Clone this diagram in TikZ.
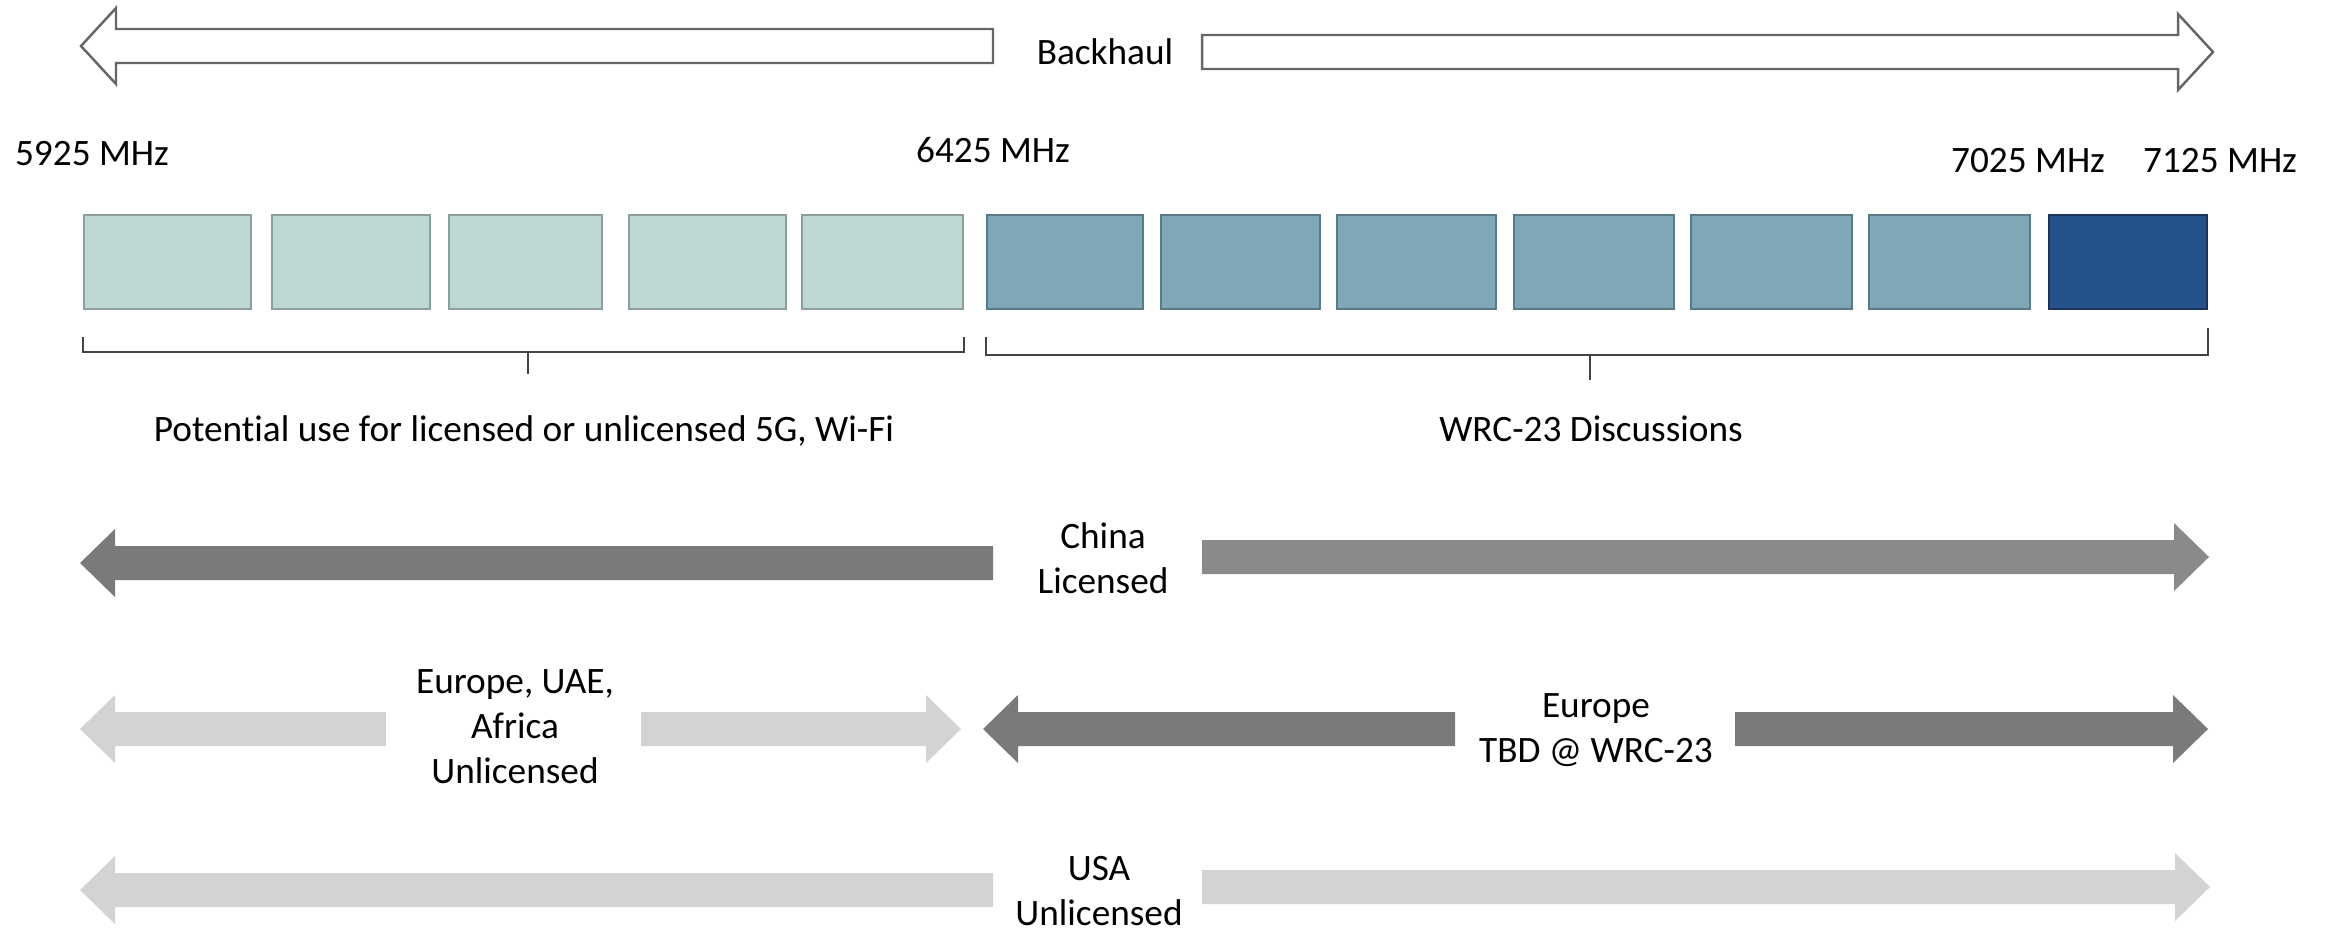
\documentclass[tikz,border=0pt]{standalone}
\usepackage{fontspec}
\setmainfont{Carlito}[Ligatures=NoCommon]
\usetikzlibrary{calc}

\definecolor{palefill}{HTML}{BDD7D5}
\definecolor{paleedge}{HTML}{8E9E9E}
\definecolor{tealfill}{HTML}{7FA8B6}
\definecolor{tealedge}{HTML}{5A7A88}
\definecolor{navyfill}{HTML}{24528A}
\definecolor{navyedge}{HTML}{1B3357}
\definecolor{darkband}{HTML}{7A7A7A}
\definecolor{midband}{HTML}{8A8A8A}
\definecolor{lightband}{HTML}{D3D3D3}
\definecolor{hollowedge}{HTML}{666666}
\definecolor{braceline}{HTML}{444444}

\tikzset{%
  chan/.style={rectangle,inner sep=0pt,line width=0.6pt,minimum height=0.94cm},
  chpale/.style={chan,fill=palefill,draw=paleedge},
  chteal/.style={chan,fill=tealfill,draw=tealedge},
  chnavy/.style={chan,fill=navyfill,draw=navyedge},
  lbl/.style={font=\fontsize{10.6}{12.7}\selectfont,inner sep=0pt,align=center,anchor=base},
  brace/.style={draw=braceline,line width=0.6pt},
  hollow/.style={draw=hollowedge,fill=white,line width=0.7pt,line join=miter}
}

% fat arrow: [head half width]{style}{tail x}{tip x}{y}
\newcommand{\band}[5][34]{%
  \pgfmathsetmacro{\bandbase}{#4-35*sign(#4-#3)}
  \path[#2] (#3,#5-17) -- (\bandbase,#5-17) -- (\bandbase,#5-#1) -- (#4,#5)
    -- (\bandbase,#5+#1) -- (\bandbase,#5+17) -- (#3,#5+17) -- cycle;
}

\begin{document}
\begin{tikzpicture}[x=0.01cm,y=-0.01cm]
  \useasboundingbox (0,0) rectangle (2325,930);

  % backhaul
  \band[38]{hollow}{993}{81}{46}
  \band[38]{hollow}{1202}{2213}{52}
  \node[lbl] (backhaul) at (1105,64) {Backhaul};

  % band edges
  \node[lbl] (f5925) at (92,165)   {5925 MHz};
  \node[lbl] (f6425) at (993,162)  {6425 MHz};
  \node[lbl] (f7025) at (2028,172) {7025 MHz};
  \node[lbl] (f7125) at (2220,172) {7125 MHz};

  % channels
  \foreach \l/\r/\k [count=\i] in {84/251/chpale,272/430/chpale,449/602/chpale,
      629/786/chpale,802/963/chpale,987/1143/chteal,1161/1320/chteal,
      1337/1496/chteal,1514/1674/chteal,1691/1852/chteal,1869/2030/chteal,
      2049/2207/chnavy}
    \node[\k,minimum width={(\r-\l)*0.01cm}] (ch\i) at ({(\l+\r)/2},262) {};

  % braces under the channels
  \draw[brace] (ch1.west |- 0,337) -- (ch1.west |- 0,352) coordinate (la)
    -- (ch5.east |- 0,352) coordinate (lb) -- (ch5.east |- 0,337);
  \draw[brace] ($(la)!0.505!(lb)$) -- ++(0,22);
  \draw[brace] (ch6.west |- 0,337) -- (ch6.west |- 0,355) coordinate (ra)
    -- (ch12.east |- 0,355) coordinate (rb) -- (ch12.east |- 0,328);
  \draw[brace] ($(ra)!0.494!(rb)$) -- ++(0,25);

  \node[lbl] (wifi) at (524,441)  {Potential use for licensed or unlicensed 5G, Wi-Fi};
  \node[lbl] (wrc)  at (1591,441) {WRC-23 Discussions};

  % china
  \band{fill=darkband}{993}{80}{563}
  \band{fill=midband}{1202}{2209}{557}
  \node[lbl] (china) at (1103,593) {China\\Licensed};

  % europe
  \band{fill=lightband}{386}{80}{729}
  \band{fill=lightband}{641}{961}{729}
  \node[lbl] (euafr) at (515,783) {Europe, UAE,\\Africa\\Unlicensed};
  \band{fill=darkband}{1455}{983}{729}
  \band{fill=darkband}{1735}{2208}{729}
  \node[lbl] (eutbd) at (1596,762) {Europe\\TBD @ WRC-23};

  % usa
  \band{fill=lightband}{993}{80}{890}
  \band{fill=lightband}{1202}{2210}{887}
  \node[lbl] (usa) at (1099,925) {USA\\Unlicensed};
\end{tikzpicture}
\end{document}
